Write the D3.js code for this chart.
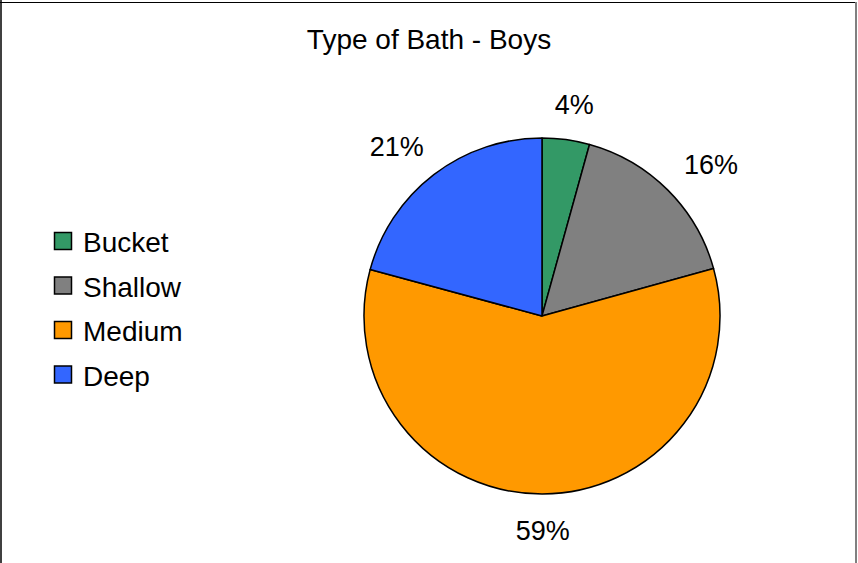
<!DOCTYPE html>
<html>
<head>
<meta charset="utf-8">
<script src="https://cdn.jsdelivr.net/npm/d3@7"></script>
<style>
  html, body { margin: 0; padding: 0; background: #fff; }
  svg { display: block; font-family: "Liberation Sans", Arial, sans-serif; }
</style>
</head>
<body>
<svg id="chart" width="858" height="563"></svg>
<script>
const title = "Type of Bath - Boys";
const categories = ["Bucket", "Shallow", "Medium", "Deep"];
const values = [4.3, 16.4, 58.5, 20.8];
const colors = ["#339966", "#808080", "#FF9900", "#3366FF"];

const W = 858, H = 563;
const svg = d3.select("#chart");

// border
svg.append("line").attr("x1", 1).attr("y1", 0).attr("x2", 1).attr("y2", H)
  .attr("stroke", "#404040").attr("stroke-width", 2);
svg.append("line").attr("x1", 0).attr("y1", 2.5).attr("x2", 857).attr("y2", 2.5)
  .attr("stroke", "#000").attr("stroke-width", 1);
svg.append("line").attr("x1", 856).attr("y1", 2).attr("x2", 856).attr("y2", H)
  .attr("stroke", "#808080").attr("stroke-width", 2);

// title
svg.append("text").attr("x", 429).attr("y", 49)
  .attr("text-anchor", "middle").attr("font-size", 28).attr("fill", "#000")
  .text(title);

// pie
const cx = 542, cy = 316, r = 178;
const data = categories.map((c, i) => ({ name: c, value: values[i], color: colors[i] }));
const pie = d3.pie().value(d => d.value).sort(null);
const arcs = pie(data);
const arc = d3.arc().innerRadius(0).outerRadius(r);

const g = svg.append("g").attr("transform", `translate(${cx},${cy})`);
g.selectAll("path").data(arcs).join("path")
  .attr("d", arc)
  .attr("fill", d => d.data.color)
  .attr("stroke", "#000")
  .attr("stroke-width", 1.5)
  .attr("stroke-linejoin", "round");

// labels
const total = d3.sum(values);
const rx = 239, ry = 214;
g.selectAll("text.lbl").data(arcs).join("text")
  .attr("class", "lbl")
  .attr("x", d => rx * Math.sin((d.startAngle + d.endAngle) / 2))
  .attr("y", d => -ry * Math.cos((d.startAngle + d.endAngle) / 2))
  .attr("dy", "0.36em")
  .attr("text-anchor", "middle")
  .attr("font-size", 27)
  .attr("fill", "#000")
  .text(d => Math.round(d.data.value / total * 100) + "%");

// legend
const legend = svg.append("g");
const ly = d3.scaleBand().domain(categories).range([222, 400]);
const items = legend.selectAll("g").data(data).join("g")
  .attr("transform", d => `translate(0,${ly(d.name)})`);
items.append("rect")
  .attr("x", 54.5).attr("y", 10.5).attr("width", 17).attr("height", 17)
  .attr("fill", d => d.color).attr("stroke", "#000").attr("stroke-width", 1.5);
items.append("text")
  .attr("x", 83).attr("y", 30)
  .attr("font-size", 28).attr("fill", "#000")
  .text(d => d.name);
</script>
</body>
</html>
